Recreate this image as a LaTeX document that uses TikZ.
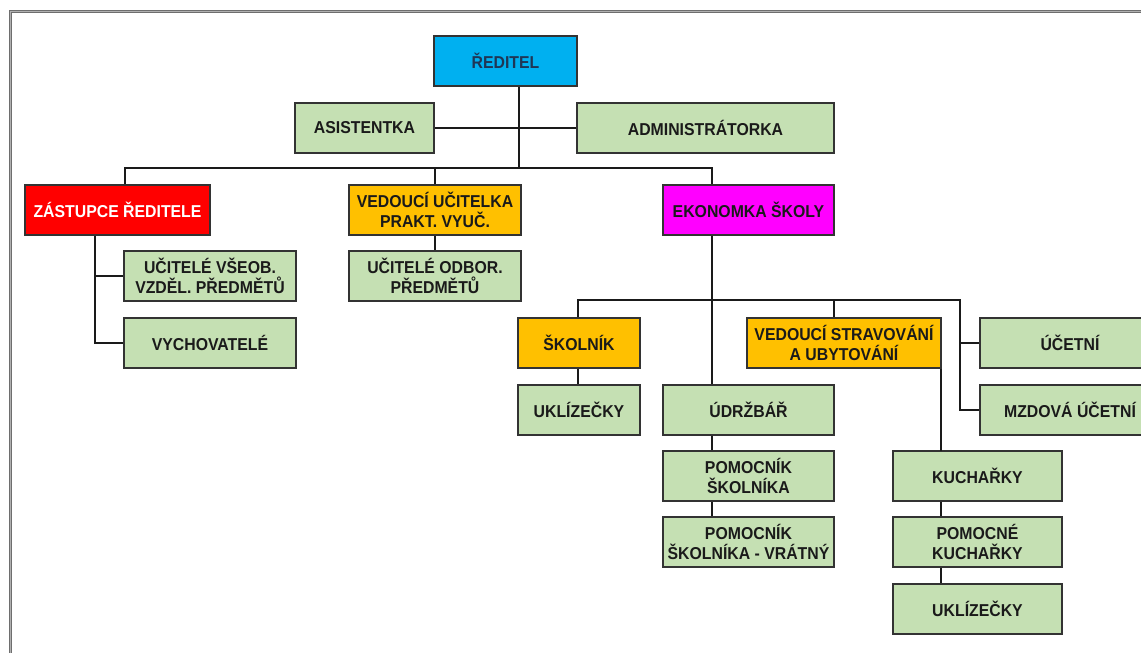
\documentclass[tikz,border=0pt]{standalone}
\usepackage{fontspec}
\setmainfont{Liberation Sans}[FakeStretch=0.92]
\definecolor{gbox}{HTML}{C5E0B3}
\definecolor{boxline}{HTML}{333333}
\definecolor{lnk}{HTML}{1A1A1A}
\definecolor{txt}{HTML}{1A1A1A}
\definecolor{navy}{HTML}{1F3655}
\definecolor{cblue}{HTML}{00B0F0}
\definecolor{cred}{HTML}{FF0000}
\definecolor{corange}{HTML}{FFC000}
\definecolor{cmag}{HTML}{FF00FF}
\definecolor{frame}{HTML}{6E6E6E}
\definecolor{framein}{HTML}{B0B0B0}
\begin{document}
\begin{tikzpicture}[x=1pt,y=-1pt,
  box/.style={draw=boxline, line width=1.7pt, fill=gbox, minimum height=50pt, inner sep=0pt,
    align=center, font=\fontsize{17.2}{20.5}\selectfont\bfseries, text=txt},
  conn/.style={draw=lnk, line width=1.8pt}]
\useasboundingbox (0,0) rectangle (1141,653);
% frame
\draw[line width=3pt, draw=frame] (10,700) -- (10,11) -- (1200,11);
\draw[line width=0.7pt, draw=framein] (10,700) -- (10,11) -- (1200,11);

% boxes
\node[box, fill=cblue, minimum width=143pt, text=navy] (red) at (505.5,61) {ŘEDITEL};
\node[box, minimum width=139pt] (asis) at (364.5,128) {ASISTENTKA};
\node[box, minimum width=257pt] (admin) at (705.5,128) {ADMINISTRÁTORKA};

\node[box, fill=cred, text=white, minimum width=185pt] (zast) at (117.5,210) {ZÁSTUPCE ŘEDITELE};
\node[box, fill=corange, minimum width=172pt] (vuc) at (435,210) {VEDOUCÍ UČITELKA\\PRAKT. VYUČ.};
\node[box, fill=cmag, minimum width=171pt] (ekon) at (748.5,210) {EKONOMKA ŠKOLY};

\node[box, minimum width=172pt] (uvs) at (210,276) {UČITELÉ VŠEOB.\\VZDĚL. PŘEDMĚTŮ};
\node[box, minimum width=172pt] (vych) at (210,343) {VYCHOVATELÉ};
\node[box, minimum width=172pt] (uodb) at (435,276) {UČITELÉ ODBOR.\\PŘEDMĚTŮ};

\node[box, fill=corange, minimum width=122pt] (skol) at (579,343) {ŠKOLNÍK};
\node[box, fill=corange, minimum width=194pt] (vstr) at (844,343) {VEDOUCÍ STRAVOVÁNÍ\\A UBYTOVÁNÍ};
\node[box, minimum width=180pt] (ucet) at (1070,343) {ÚČETNÍ};
\node[box, minimum width=180pt] (mzd) at (1070,410) {MZDOVÁ ÚČETNÍ};

\node[box, minimum width=122pt] (ukl1) at (579,410) {UKLÍZEČKY};
\node[box, minimum width=171pt] (udr) at (748.5,410) {ÚDRŽBÁŘ};
\node[box, minimum width=171pt] (pom1) at (748.5,476) {POMOCNÍK\\ŠKOLNÍKA};
\node[box, minimum width=171pt] (pom2) at (748.5,542) {POMOCNÍK\\ŠKOLNÍKA - VRÁTNÝ};

\node[box, minimum width=169pt] (kuch) at (977.5,476) {KUCHAŘKY};
\node[box, minimum width=169pt] (pomk) at (977.5,542) {POMOCNÉ\\KUCHAŘKY};
\node[box, minimum width=169pt] (ukl2) at (977.5,609) {UKLÍZEČKY};

% helper coordinates
\coordinate (c0) at (519,168);
\coordinate (b1L) at (125,168);
\coordinate (b1R) at (712,168);
\coordinate (z1) at (95,343);
\coordinate (b2L) at (578,300);
\coordinate (b2M) at (834,300);
\coordinate (b2R) at (960,300);
\coordinate (e1) at (712,300);
\coordinate (r1) at (960,410);
\coordinate (k1) at (941,451);

% connectors
\draw[conn] (c0 |- red.south) -- (c0);
\draw[conn] (asis.east) -- (admin.west);
\draw[conn] (b1L |- zast.north) -- (b1L) -- (b1R) -- (b1R |- ekon.north);
\draw[conn] (vuc.north) -- (vuc.north |- b1L);
\draw[conn] (vuc.south) -- (uodb.north);
\draw[conn] (z1 |- zast.south) -- (z1) -- (vych.west);
\draw[conn] (z1 |- uvs.west) -- (uvs.west);
\draw[conn] (e1 |- ekon.south) -- (e1 |- udr.north);
\draw[conn] (b2L |- skol.north) -- (b2L) -- (b2R) -- (r1) -- (mzd.west);
\draw[conn] (b2R |- ucet.west) -- (ucet.west);
\draw[conn] (b2M) -- (b2M |- vstr.north);
\draw[conn] (b2L |- skol.south) -- (b2L |- ukl1.north);
\draw[conn] (e1 |- udr.south) -- (e1 |- pom1.north);
\draw[conn] (e1 |- pom1.south) -- (e1 |- pom2.north);
\draw[conn] (k1 |- vstr.south) -- (k1);
\draw[conn] (k1 |- kuch.south) -- (k1 |- pomk.north);
\draw[conn] (k1 |- pomk.south) -- (k1 |- ukl2.north);
\end{tikzpicture}
\end{document}
